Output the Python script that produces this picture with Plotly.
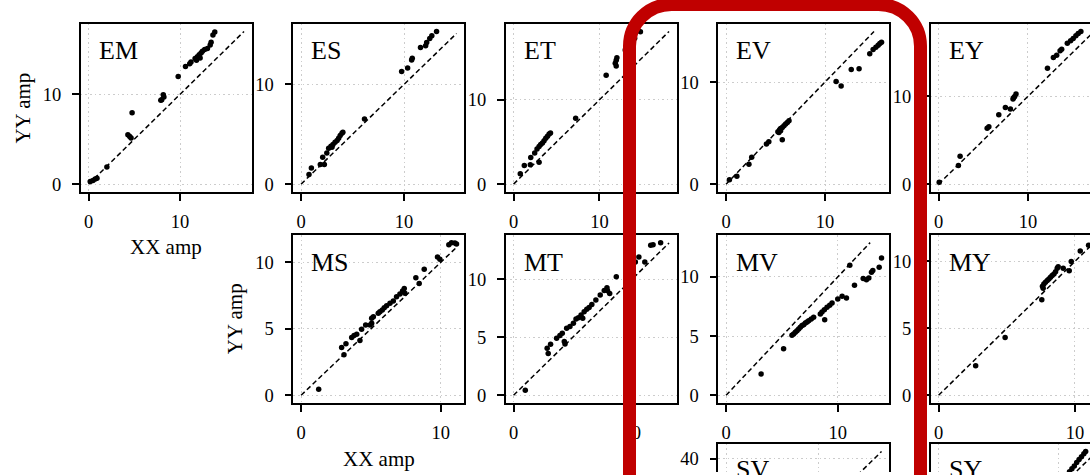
import plotly.graph_objects as go

# ---------------- data ----------------
EM_xx = [0.18, 0.48, 0.73, 0.92, 2.0, 4.76, 4.3, 4.5, 4.65, 8.0, 8.17, 8.24, 7.9, 9.8, 10.6, 11.06, 11.2,
         11.65, 11.9, 12.1, 12.3, 12.45, 12.7, 13.0, 13.3, 13.4, 13.6, 13.8, 11.8, 12.2]
EM_yy = [0.3, 0.41, 0.56, 0.67, 1.9, 7.96, 5.5, 5.3, 5.13, 9.4, 9.96, 9.7, 9.33, 12.0, 13.1, 13.4, 13.6,
         14.0, 14.2, 14.4, 14.6, 14.8, 15.0, 15.1, 15.5, 15.8, 16.6, 16.95, 13.8, 14.05]
EM_diag = 17.0

ES_xx = [0.77, 1.0, 1.87, 2.26, 2.1, 2.5, 2.68, 2.9, 3.1, 3.3, 3.5, 3.65, 3.8, 3.97, 4.06, 3.0, 6.16,
         9.77, 10.35, 10.74, 10.8, 11.6, 12.1, 12.2, 12.5, 12.7, 13.16]
ES_yy = [0.97, 1.63, 1.97, 1.97, 2.7, 3.13, 3.6, 3.8, 3.97, 4.2, 4.37, 4.6, 4.87, 5.1, 5.2, 3.7, 6.53,
         11.3, 11.63, 12.43, 12.63, 13.7, 13.87, 14.2, 14.6, 14.87, 15.3]
ES_diag = 15.1

ET_xx = [0.78, 1.25, 1.95, 2.97, 2.0, 2.46, 2.73, 2.97, 3.16, 3.36, 3.55, 3.75, 3.95, 4.14, 4.3, 7.23,
         10.78, 11.84, 11.95, 12.03, 11.95, 13.0, 13.5, 14.1, 14.77]
ET_yy = [1.22, 2.2, 2.3, 2.6, 3.15, 3.7, 4.17, 4.45, 4.7, 4.88, 5.16, 5.43, 5.67, 5.94, 6.06, 7.8,
         12.9, 14.33, 14.7, 15.0, 14.0, 15.9, 16.6, 17.3, 18.07]
ET_diag = 18.1

EV_xx = [0.34, 1.09, 2.31, 2.59, 4.08, 4.32, 5.24, 5.41, 5.51, 5.68, 5.85, 6.02, 6.19, 6.36, 5.34, 5.51,
         5.68, 11.12, 11.63, 12.65, 13.44, 14.52, 14.86, 15.14, 15.37, 15.54, 15.71]
EV_yy = [0.42, 0.78, 1.95, 2.63, 3.93, 4.16, 5.13, 5.32, 5.45, 5.55, 5.71, 5.88, 6.04, 6.2, 5.06, 5.23,
         4.35, 10.06, 9.61, 11.23, 11.3, 12.76, 13.18, 13.41, 13.6, 13.77, 13.9]
EV_diag = 14.95

EY_xx = [0.07, 2.22, 2.41, 5.44, 5.63, 6.74, 7.48, 8.04, 8.33, 8.52, 8.67, 8.4, 12.19, 12.85, 13.22,
         13.6, 13.78, 14.41, 14.78, 15.07, 15.37, 15.63, 15.93]
EY_yy = [0.23, 2.12, 3.18, 6.36, 6.55, 7.92, 8.75, 8.56, 9.7, 10.0, 10.27, 9.85, 13.22, 14.43, 14.7,
         15.2, 15.38, 16.06, 16.33, 16.6, 16.9, 17.16, 17.39]
EY_diag = 17.4

MS_xx = [1.26, 2.9, 3.21, 3.07, 3.62, 3.79, 3.98, 4.21, 4.33, 4.62, 4.93, 5.05, 5.17, 5.05, 5.52, 5.64,
         5.81, 5.95, 6.12, 6.36, 6.6, 6.83, 7.07, 7.26, 7.38, 7.43, 7.31, 8.21, 8.45, 8.81, 9.76, 9.93,
         10.57, 10.76, 11.0, 11.12]
MS_yy = [0.45, 3.59, 3.87, 3.04, 4.34, 4.49, 4.59, 4.11, 4.96, 5.29, 5.29, 5.79, 5.91, 5.41, 6.16, 6.28,
         6.41, 6.58, 6.73, 6.91, 7.08, 7.41, 7.61, 7.83, 8.03, 7.66, 7.78, 8.83, 8.4, 9.48, 10.4, 10.22,
         11.32, 11.47, 11.45, 11.37]
MS_diag = 11.1

MT_xx = [0.99, 2.84, 2.93, 3.13, 3.64, 3.92, 4.12, 4.29, 4.35, 4.49, 4.77, 5.06, 5.28, 5.48, 5.71, 5.85,
         5.97, 6.19, 6.39, 6.62, 6.96, 7.33, 7.67, 7.9, 7.95, 8.13, 8.69, 10.3, 10.6, 11.1, 11.6, 11.8, 12.44]
MT_yy = [0.43, 4.07, 3.61, 4.41, 4.93, 5.16, 5.36, 4.64, 4.44, 5.79, 5.93, 6.22, 6.59, 6.7, 6.93, 6.65,
         7.22, 7.42, 7.59, 7.85, 8.22, 8.65, 9.05, 9.28, 9.03, 8.8, 10.23, 11.5, 11.95, 11.5, 12.95, 13.0, 13.18]
MT_diag = 13.15

MV_xx = [3.14, 5.15, 5.9, 6.05, 6.2, 6.35, 6.5, 6.65, 6.8, 6.95, 7.1, 7.25, 7.4, 7.63, 7.84, 8.44, 8.59,
         8.8, 9.04, 9.28, 9.49, 8.83, 10.0, 10.39, 10.78, 11.08, 11.5, 12.28, 12.57, 12.78, 13.02, 13.14,
         13.71, 13.92]
MV_yy = [1.8, 3.94, 5.07, 5.18, 5.32, 5.46, 5.61, 5.75, 5.89, 5.97, 6.11, 6.2, 6.31, 6.45, 6.59, 6.87, 7.04,
         7.24, 7.44, 7.61, 7.8, 6.39, 8.14, 8.37, 8.23, 10.99, 9.3, 9.86, 9.77, 9.92, 10.39, 10.54,
         10.82, 11.61]
MV_diag = 12.9

MY_xx = [2.72, 4.88, 7.57, 7.62, 7.72, 7.84, 7.97, 8.09, 8.21, 8.33, 8.46, 8.58, 8.7, 8.77, 7.67, 9.14,
         9.58, 9.73, 10.39, 11.0, 11.3]
MY_yy = [2.2, 4.32, 7.14, 8.15, 8.32, 8.44, 8.57, 8.69, 8.81, 8.94, 9.06, 9.23, 9.48, 9.6, 8.0, 9.48,
         9.31, 10.0, 10.77, 11.21, 11.38]
MY_diag = 11.4

SV_xx = [4.0, 9.5, 15.0, 21.0, 27.5, 33.0]
SV_yy = [3.6, 8.8, 13.9, 19.5, 25.8, 31.0]
SV_diag = 42.0

SY_xx = [3.0, 8.0, 12.0, 16.0, 19.0, 21.5, 21.9, 22.3, 22.7, 23.1, 23.5, 23.9, 24.3, 24.6]
SY_yy = [3.2, 8.5, 12.8, 17.0, 20.2, 22.4, 23.0, 23.5, 24.0, 24.6, 25.1, 25.6, 26.1, 26.5]
SY_diag = 26.0

TICKS_ROW1 = [0, 10]
TICKS_ROW2_X = [0, 10]
TICKS_ROW2_Y = [0, 5, 10]
TICKS_SV_X = [0, 25]
TICKS_SV_Y = [0, 20, 40]
TICKS_SY = [0, 20]

# (label, row, col, xx, yy, diag, xticks, yticks)
panels = [
    ("EM", 0, 0, EM_xx, EM_yy, EM_diag, TICKS_ROW1, TICKS_ROW1),
    ("ES", 0, 1, ES_xx, ES_yy, ES_diag, TICKS_ROW1, TICKS_ROW1),
    ("ET", 0, 2, ET_xx, ET_yy, ET_diag, TICKS_ROW1, TICKS_ROW1),
    ("EV", 0, 3, EV_xx, EV_yy, EV_diag, TICKS_ROW1, TICKS_ROW1),
    ("EY", 0, 4, EY_xx, EY_yy, EY_diag, TICKS_ROW1, TICKS_ROW1),
    ("MS", 1, 1, MS_xx, MS_yy, MS_diag, TICKS_ROW2_X, TICKS_ROW2_Y),
    ("MT", 1, 2, MT_xx, MT_yy, MT_diag, TICKS_ROW2_X, TICKS_ROW2_Y),
    ("MV", 1, 3, MV_xx, MV_yy, MV_diag, TICKS_ROW2_X, TICKS_ROW2_Y),
    ("MY", 1, 4, MY_xx, MY_yy, MY_diag, TICKS_ROW2_X, TICKS_ROW2_Y),
    ("SV", 2, 3, SV_xx, SV_yy, SV_diag, TICKS_SV_X, TICKS_SV_Y),
    ("SY", 2, 4, SY_xx, SY_yy, SY_diag, TICKS_SY, TICKS_SY),
]

# ---------------- layout geometry (pixels) ----------------
W, H = 1090, 475
COL_LEFT = [80.8, 293.3, 505.8, 718.3, 930.8]
ROW_TOP = [24.0, 236.5, 446.7]
PW, PH = 171.0, 169.0
SERIF = "Liberation Serif"
TICKFONT = dict(family=SERIF, size=18.5, color="black")
GRID = "#cccccc"

fig = go.Figure()
layout = dict(
    width=W, height=H, margin=dict(l=0, r=0, t=0, b=0, pad=0),
    paper_bgcolor="white", plot_bgcolor="white", showlegend=False,
    annotations=[], shapes=[],
)


def auto_range(vals, diag):
    lo = min(0.0, min(vals))
    hi = max(diag, max(vals))
    pad = 0.05 * (hi - lo)
    return lo - pad, hi + pad


for k, (lab, r, c, xx, yy, diag, xt, yt) in enumerate(panels, start=1):
    xs = "" if k == 1 else str(k)
    left, top = COL_LEFT[c], ROW_TOP[r]
    right, bottom = left + PW, top + PH
    x0, x1 = auto_range(xx, diag)
    y0, y1 = auto_range(yy, diag)
    # cut panels that run past the picture edge
    cut_right = right > W
    cut_bottom = bottom > H
    if cut_right:
        x1 = x0 + (x1 - x0) * (W - left) / PW
        right = W
    if cut_bottom:
        y0 = y1 - (y1 - y0) * (H - top) / PH
        bottom = H

    fig.add_trace(go.Scatter(x=[0, diag], y=[0, diag], mode="lines",
                             line=dict(color="black", width=1.5, dash="5px,3px"),
                             xaxis="x" + xs, yaxis="y" + xs, hoverinfo="skip", cliponaxis=True))
    fig.add_trace(go.Scatter(x=xx, y=yy, mode="markers",
                             marker=dict(color="black", size=5.5, line=dict(width=0)),
                             xaxis="x" + xs, yaxis="y" + xs, cliponaxis=True))

    common = dict(showline=True, linecolor="black", linewidth=1.6,
                  showgrid=True, gridcolor=GRID, gridwidth=1.4, griddash="1.6px,3px",
                  zeroline=False, tickfont=TICKFONT, tickcolor="black",
                  tickwidth=1.6, ticklen=7, tickmode="array")
    xa = dict(common, domain=[left / W, right / W], anchor="y" + xs, range=[x0, x1], tickvals=xt,
              ticktext=[str(v) for v in xt])
    ya = dict(common, domain=[1 - bottom / H, 1 - top / H], anchor="x" + xs, range=[y0, y1], tickvals=yt,
              ticktext=[str(v) for v in yt])
    if cut_bottom:
        xa.update(side="top", mirror=False, ticks="", showticklabels=False)
    else:
        xa.update(side="bottom", mirror=True, ticks="outside", ticklabelstandoff=5)
    ya.update(side="left", mirror=(not cut_right), ticks="outside", ticklabelstandoff=7)
    layout["xaxis" + xs] = xa
    layout["yaxis" + xs] = ya

    lab_off = 26.0 if r == 2 else 27.3
    layout["annotations"].append(dict(
        text=lab, xref="paper", yref="paper", x=(left + 16.0) / W, y=1 - (top + lab_off) / H,
        xanchor="left", yanchor="middle", showarrow=False,
        font=dict(family=SERIF, size=26, color="black")))

# axis titles on the first panel of each row
for (pl, ptop) in [(COL_LEFT[0], ROW_TOP[0]), (COL_LEFT[1], ROW_TOP[1])]:
    layout["annotations"].append(dict(
        text="XX amp", xref="paper", yref="paper", x=(pl + PW / 2) / W, y=1 - (ptop + PH + 56) / H,
        xanchor="center", yanchor="middle", showarrow=False,
        font=dict(family=SERIF, size=21, color="black")))
    layout["annotations"].append(dict(
        text="YY amp", xref="paper", yref="paper", x=(pl - 58) / W, y=1 - (ptop + PH / 2) / H,
        xanchor="center", yanchor="middle", textangle=-90, showarrow=False,
        font=dict(family=SERIF, size=21, color="black")))

# red rounded highlight frame
def P(px, py):
    return f"{px / W:.5f},{1 - py / H:.5f}"

xl, xr, yt_, yb, rad = 629.5, 920.5, 4.5, 620.0, 42.0
kk = 0.5523 * rad
path = (f"M{P(xl, yb)} L{P(xl, yt_ + rad)} "
        f"C{P(xl, yt_ + rad - kk)} {P(xl + rad - kk, yt_)} {P(xl + rad, yt_)} "
        f"L{P(xr - rad, yt_)} "
        f"C{P(xr - rad + kk, yt_)} {P(xr, yt_ + rad - kk)} {P(xr, yt_ + rad)} "
        f"L{P(xr, yb)}")
layout["shapes"].append(dict(type="path", xref="paper", yref="paper", path=path,
                             line=dict(color="#c00000", width=13), fillcolor="rgba(0,0,0,0)",
                             layer="above"))

fig.update_layout(**layout)
fig.write_html("out.html", config={"displayModeBar": False},
               post_script="document.body.style.margin='0';document.body.style.overflow='hidden';")
